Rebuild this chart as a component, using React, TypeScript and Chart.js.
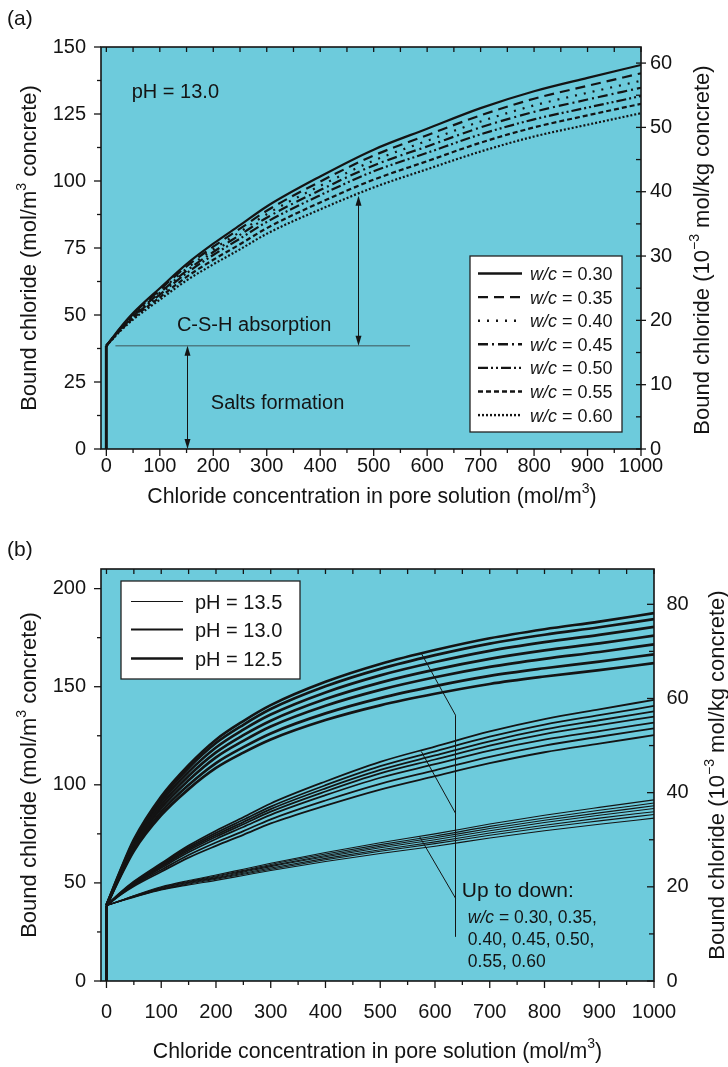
import React, { useEffect, useRef } from 'react';
import { Chart, registerables } from 'chart.js';

Chart.register(...registerables);

const FONT = '"Liberation Sans", Arial, Helvetica, sans-serif';
const PLOT_BG = '#6dcbdc';
const INK = '#141414';

// ---------------- data ----------------
// chloride concentration in pore solution (mol/m3)
const chlorideConc = [0, 25, 50, 100, 150, 200, 250, 300, 400, 500, 600, 700, 800, 900, 1000];
// salts-formation step at zero concentration (x, y)
const stemConc = [0, 0];
const stemBound = [0, 38.5];

const wcLabels = ['0.30', '0.35', '0.40', '0.45', '0.50', '0.55', '0.60'];
const phLabels = ['13.5', '13.0', '12.5'];

// pH = 13.0
const pH130_wc030 = [38.5, 45.0, 50.7, 60.0, 69.0, 76.6, 83.5, 90.5, 101.7, 111.7, 119.5, 127.2, 133.5, 138.5, 143.3];
const pH130_wc035 = [38.5, 44.8, 50.3, 59.4, 68.1, 75.5, 82.2, 88.9, 99.8, 109.5, 117.1, 124.5, 130.7, 135.5, 140.2];
const pH130_wc040 = [38.5, 44.6, 50.0, 58.8, 67.3, 74.5, 81.0, 87.6, 98.2, 107.6, 115.0, 122.2, 128.2, 132.9, 137.4];
const pH130_wc045 = [38.5, 44.5, 49.7, 58.3, 66.5, 73.5, 79.9, 86.3, 96.6, 105.8, 112.9, 120.0, 125.8, 130.4, 134.8];
const pH130_wc050 = [38.5, 44.3, 49.3, 57.6, 65.6, 72.4, 78.5, 84.7, 94.7, 103.6, 110.5, 117.4, 123.0, 127.4, 131.7];
const pH130_wc055 = [38.5, 44.0, 48.8, 56.6, 64.2, 70.6, 76.4, 82.4, 92.0, 100.5, 107.4, 114.3, 120.0, 124.5, 128.8];
const pH130_wc060 = [38.5, 43.8, 48.3, 55.7, 62.9, 68.9, 74.5, 80.3, 89.4, 97.6, 104.4, 111.0, 116.6, 121.0, 125.3];

// pH = 12.5
const pH125_wc030 = [38.5, 56.0, 72.0, 94.0, 110.0, 123.0, 132.5, 140.6, 152.5, 161.6, 168.7, 174.7, 179.3, 183.2, 187.5];
const pH125_wc035 = [38.5, 55.7, 71.3, 92.9, 108.6, 121.3, 130.6, 138.6, 150.2, 159.1, 166.1, 172.0, 176.5, 180.3, 184.5];
const pH125_wc040 = [38.5, 55.2, 70.4, 91.4, 106.6, 119.0, 128.1, 135.8, 147.1, 155.8, 162.6, 168.3, 172.7, 176.4, 180.5];
const pH125_wc045 = [38.5, 54.7, 69.4, 89.7, 104.5, 116.5, 125.3, 132.7, 143.7, 152.1, 158.7, 164.2, 168.5, 172.1, 176.0];
const pH125_wc050 = [38.5, 54.1, 68.4, 88.1, 102.3, 114.0, 122.4, 129.7, 140.3, 148.4, 154.8, 160.1, 164.2, 167.7, 171.6];
const pH125_wc055 = [38.5, 53.5, 67.3, 86.2, 99.9, 111.1, 119.2, 126.2, 136.4, 144.2, 150.3, 155.5, 159.4, 162.8, 166.5];
const pH125_wc060 = [38.5, 53.0, 66.3, 84.5, 97.8, 108.6, 116.4, 123.1, 133.0, 140.5, 146.4, 151.4, 155.2, 158.5, 162.0];

// pH = 13.5
const pH135_wc030 = [38.5, 41.0, 43.5, 48.0, 51.2, 54.0, 57.0, 60.0, 65.5, 70.5, 75.0, 80.0, 84.5, 88.5, 92.3];
const pH135_wc035 = [38.5, 40.9, 43.4, 47.7, 50.8, 53.5, 56.4, 59.4, 64.7, 69.5, 73.9, 78.8, 83.1, 87.0, 90.7];
const pH135_wc040 = [38.5, 40.9, 43.2, 47.5, 50.5, 53.1, 56.0, 58.8, 64.0, 68.7, 73.0, 77.7, 81.9, 85.7, 89.3];
const pH135_wc045 = [38.5, 40.8, 43.1, 47.2, 50.2, 52.7, 55.5, 58.3, 63.3, 67.9, 72.0, 76.6, 80.8, 84.5, 87.9];
const pH135_wc050 = [38.5, 40.7, 42.9, 46.9, 49.8, 52.3, 54.9, 57.6, 62.5, 66.9, 70.9, 75.4, 79.4, 83.0, 86.3];
const pH135_wc055 = [38.5, 40.7, 42.8, 46.7, 49.4, 51.9, 54.4, 57.0, 61.8, 66.1, 70.0, 74.3, 78.2, 81.6, 84.9];
const pH135_wc060 = [38.5, 40.6, 42.6, 46.4, 49.0, 51.3, 53.8, 56.3, 60.9, 65.0, 68.7, 72.9, 76.6, 79.9, 83.0];

const pH130Series = [pH130_wc030, pH130_wc035, pH130_wc040, pH130_wc045, pH130_wc050, pH130_wc055, pH130_wc060];
const pH125Series = [pH125_wc030, pH125_wc035, pH125_wc040, pH125_wc045, pH125_wc050, pH125_wc055, pH125_wc060];
const pH135Series = [pH135_wc030, pH135_wc035, pH135_wc040, pH135_wc045, pH135_wc050, pH135_wc055, pH135_wc060];

const xTicks = [0, 100, 200, 300, 400, 500, 600, 700, 800, 900, 1000];
const yTicksA = [0, 25, 50, 75, 100, 125, 150];
const y2TicksA = [0, 10, 20, 30, 40, 50, 60];
const yTicksB = [0, 50, 100, 150, 200];
const y2TicksB = [0, 20, 40, 60, 80];

// ---------------- styles ----------------
const wcDashes = [[], [10, 6], [2, 7], [10, 4, 2, 4], [10, 3, 2, 3, 2, 3], [5, 3], [2, 2]];
const phWidths = [1.1, 1.8, 2.7];

type Seg = { t: string; italic?: boolean; sup?: boolean };

function segFont(s: Seg, size: number) {
  const sz = s.sup ? Math.round(size * 0.65) : size;
  return `${s.italic ? 'italic ' : ''}${sz}px ${FONT}`;
}

function drawRich(ctx: CanvasRenderingContext2D, segs: Seg[], x: number, y: number, size: number, align: 'left' | 'center' = 'left', rot = 0) {
  ctx.save();
  ctx.translate(x, y);
  if (rot) ctx.rotate(rot);
  let total = 0;
  for (const s of segs) {
    ctx.font = segFont(s, size);
    total += ctx.measureText(s.t).width;
  }
  let cx = align === 'center' ? -total / 2 : 0;
  ctx.textAlign = 'left';
  ctx.textBaseline = 'alphabetic';
  ctx.fillStyle = INK;
  for (const s of segs) {
    ctx.font = segFont(s, size);
    ctx.fillText(s.t, cx, s.sup ? -size * 0.45 : 0);
    cx += ctx.measureText(s.t).width;
  }
  ctx.restore();
}

function line(ctx: CanvasRenderingContext2D, x1: number, y1: number, x2: number, y2: number) {
  ctx.beginPath();
  ctx.moveTo(x1, y1);
  ctx.lineTo(x2, y2);
  ctx.stroke();
}

function arrowHead(ctx: CanvasRenderingContext2D, x: number, y: number, dir: number) {
  ctx.beginPath();
  ctx.moveTo(x, y);
  ctx.lineTo(x - 3, y - dir * 10);
  ctx.lineTo(x + 3, y - dir * 10);
  ctx.closePath();
  ctx.fill();
}

function drawFrameAndTicks(chart: any, rightCross: boolean) {
  const { ctx, chartArea: a, scales } = chart;
  const xs = scales.x, ys = scales.y, y2 = scales.y2;
  const mids = (vals: number[]) => vals.slice(0, -1).map((v, i) => (v + vals[i + 1]) / 2);
  ctx.save();
  ctx.strokeStyle = INK;
  ctx.lineWidth = 1.3;
  const xv = xs.ticks.map((t: any) => t.value);
  xv.forEach((v: number) => {
    const p = xs.getPixelForValue(v);
    line(ctx, p, a.bottom, p, a.bottom + 7);
    line(ctx, p, a.top, p, a.top + 5);
  });
  mids(xv).forEach((v) => {
    const p = xs.getPixelForValue(v);
    line(ctx, p, a.bottom, p, a.bottom + 4);
    line(ctx, p, a.top, p, a.top + 5);
  });
  const yv = ys.ticks.map((t: any) => t.value);
  yv.forEach((v: number) => {
    const p = ys.getPixelForValue(v);
    line(ctx, a.left - 7, p, a.left, p);
  });
  mids(yv).forEach((v) => {
    const p = ys.getPixelForValue(v);
    line(ctx, a.left - 4, p, a.left, p);
  });
  const rv = y2.ticks.map((t: any) => t.value);
  rv.forEach((v: number) => {
    const p = y2.getPixelForValue(v);
    if (rightCross) line(ctx, a.right - 5, p, a.right + 5, p);
    else line(ctx, a.right - 7, p, a.right, p);
  });
  mids(rv).forEach((v) => {
    const p = y2.getPixelForValue(v);
    line(ctx, a.right - 5, p, a.right, p);
  });
  ctx.lineWidth = 1.6;
  ctx.strokeRect(a.left, a.top, a.right - a.left, a.bottom - a.top);
  ctx.restore();
}

function bgPlugin(id: string) {
  return {
    id,
    beforeDatasetsDraw(chart: any) {
      const { ctx, chartArea: a } = chart;
      ctx.save();
      ctx.fillStyle = PLOT_BG;
      ctx.fillRect(a.left, a.top, a.right - a.left, a.bottom - a.top);
      ctx.restore();
    },
  };
}

const plotAPlugin = {
  id: 'plotA',
  afterDatasetsDraw(chart: any) {
    const { ctx, scales } = chart;
    const px = (v: number) => scales.x.getPixelForValue(v);
    const py = (v: number) => scales.y.getPixelForValue(v);
    drawFrameAndTicks(chart, true);

    ctx.save();
    ctx.strokeStyle = '#4d7c84';
    ctx.lineWidth = 1.6;
    line(ctx, px(17), py(38.5), px(568), py(38.5));
    ctx.strokeStyle = INK;
    ctx.fillStyle = INK;
    ctx.lineWidth = 1;
    const ax1 = Math.round(px(150)) + 0.5;
    line(ctx, ax1, py(0) - 8, ax1, py(38.5) + 8);
    arrowHead(ctx, ax1, py(0), 1);
    arrowHead(ctx, ax1, py(38.5), -1);
    const ax2 = Math.round(px(471)) + 0.5;
    line(ctx, ax2, py(38.5) - 8, ax2, py(94.5) + 8);
    arrowHead(ctx, ax2, py(38.5), 1);
    arrowHead(ctx, ax2, py(94.5), -1);
    ctx.restore();

    drawRich(ctx, [{ t: 'pH = 13.0' }], px(47.5), py(133.5) + 7, 20);
    drawRich(ctx, [{ t: 'C-S-H absorption' }], px(132), py(46.6) + 7, 20);
    drawRich(ctx, [{ t: 'Salts formation' }], px(195.5), py(17.7) + 7, 20);

    ctx.save();
    ctx.fillStyle = '#ffffff';
    ctx.fillRect(470, 256, 152, 176);
    ctx.strokeStyle = '#222';
    ctx.lineWidth = 1.3;
    ctx.strokeRect(470, 256, 152, 176);
    ctx.strokeStyle = INK;
    ctx.lineWidth = 2.4;
    wcLabels.forEach((lab, i) => {
      const y = 273.5 + i * 23.6;
      ctx.setLineDash(wcDashes[i]);
      line(ctx, 478, y, 522, y);
      ctx.setLineDash([]);
      drawRich(ctx, [{ t: 'w/c', italic: true }, { t: ' = ' + lab }], 530, y + 6.5, 18);
    });
    ctx.restore();
  },
  afterDraw(chart: any) {
    const { ctx, chartArea: a } = chart;
    const cy = (a.top + a.bottom) / 2;
    drawRich(ctx, [{ t: '(a)' }], 7, 24.5, 21);
    drawRich(ctx, [{ t: 'Bound chloride (mol/m' }, { t: '3', sup: true }, { t: ' concrete)' }], 35.5, cy, 22, 'center', -Math.PI / 2);
    drawRich(ctx, [{ t: 'Bound chloride (10' }, { t: '\u22123', sup: true }, { t: ' mol/kg concrete)' }], 709, cy + 2, 22, 'center', -Math.PI / 2);
    drawRich(ctx, [{ t: 'Chloride concentration in pore solution (mol/m' }, { t: '3', sup: true }, { t: ')' }], 372, 503, 21.3, 'center');
  },
};

const plotBPlugin = {
  id: 'plotB',
  afterDatasetsDraw(chart: any) {
    const { ctx, scales } = chart;
    const px = (v: number) => scales.x.getPixelForValue(v);
    const py = (v: number) => scales.y.getPixelForValue(v);
    drawFrameAndTicks(chart, false);

    ctx.save();
    ctx.strokeStyle = INK;
    ctx.lineWidth = 1;
    const vx = Math.round(px(637)) + 0.5;
    line(ctx, vx, py(135.5), vx, py(22.5));
    line(ctx, px(575), py(167), vx, py(135.5));
    line(ctx, px(575), py(117), vx, py(85.5));
    line(ctx, px(572), py(73.5), vx, py(42.2));
    ctx.restore();

    drawRich(ctx, [{ t: 'Up to down:' }], px(649), py(46.4) + 7.5, 21);
    drawRich(ctx, [{ t: 'w/c', italic: true }, { t: ' = 0.30, 0.35,' }], px(660), py(32.8) + 6.3, 17.5);
    drawRich(ctx, [{ t: '0.40, 0.45, 0.50,' }], px(660), py(21.4) + 6.3, 17.5);
    drawRich(ctx, [{ t: '0.55, 0.60' }], px(660), py(10.2) + 6.3, 17.5);

    ctx.save();
    ctx.fillStyle = '#ffffff';
    ctx.fillRect(121, 51, 179, 98);
    ctx.strokeStyle = '#222';
    ctx.lineWidth = 1.3;
    ctx.strokeRect(121, 51, 179, 98);
    ctx.strokeStyle = INK;
    phLabels.forEach((lab, i) => {
      const y = Math.round(71 + i * 28.35) + 0.5;
      ctx.lineWidth = phWidths[i];
      line(ctx, 131, y, 183, y);
      drawRich(ctx, [{ t: 'pH = ' + lab }], 195, y + 7.2, 20);
    });
    ctx.restore();
  },
  afterDraw(chart: any) {
    const { ctx, chartArea: a } = chart;
    const cy = (a.top + a.bottom) / 2;
    drawRich(ctx, [{ t: '(b)' }], 7, 25.5, 21);
    drawRich(ctx, [{ t: 'Bound chloride (mol/m' }, { t: '3', sup: true }, { t: ' concrete)' }], 35.5, cy, 22, 'center', -Math.PI / 2);
    drawRich(ctx, [{ t: 'Bound chloride (10' }, { t: '\u22123', sup: true }, { t: ' mol/kg concrete)' }], 723.5, cy, 22, 'center', -Math.PI / 2);
    drawRich(ctx, [{ t: 'Chloride concentration in pore solution (mol/m' }, { t: '3', sup: true }, { t: ')' }], 377.5, 528, 21.3, 'center');
  },
};

type ScaleCfg = {
  yMax: number; y2Max: number; yTicks: number[]; y2Ticks: number[];
  xHeight: number; yWidth: number; y2Width: number; xPad: number; yPad: number; y2Pad: number;
};

function makeScales(c: ScaleCfg) {
  const tickFont = { family: FONT, size: 20 };
  const fmt = (v: any) => String(v);
  return {
    x: {
      type: 'linear', position: 'bottom', min: -10, max: 1000,
      afterBuildTicks: (s: any) => { s.ticks = xTicks.map((v) => ({ value: v })); },
      afterFit: (s: any) => { s.height = c.xHeight; },
      grid: { display: false, drawTicks: false }, border: { display: false },
      ticks: { font: tickFont, color: INK, padding: c.xPad, maxRotation: 0, minRotation: 0, autoSkip: false, callback: fmt },
    },
    y: {
      type: 'linear', position: 'left', min: 0, max: c.yMax,
      afterBuildTicks: (s: any) => { s.ticks = c.yTicks.map((v) => ({ value: v })); },
      afterFit: (s: any) => { s.width = c.yWidth; },
      grid: { display: false, drawTicks: false }, border: { display: false },
      ticks: { font: tickFont, color: INK, padding: c.yPad, autoSkip: false, callback: fmt },
    },
    y2: {
      type: 'linear', position: 'right', min: 0, max: c.y2Max,
      afterBuildTicks: (s: any) => { s.ticks = c.y2Ticks.map((v) => ({ value: v })); },
      afterFit: (s: any) => { s.width = c.y2Width; },
      grid: { display: false, drawTicks: false }, border: { display: false },
      ticks: { font: tickFont, color: INK, padding: c.y2Pad, autoSkip: false, callback: fmt },
    },
  };
}

function toPoints(xs: number[], ys: number[]) {
  return xs.map((x, j) => ({ x, y: ys[j] }));
}

function curve(label: string, ys: number[], width: number, dash: number[]) {
  return {
    label,
    data: toPoints(chlorideConc, ys),
    borderColor: INK,
    borderWidth: width,
    borderDash: dash,
    borderCapStyle: 'butt',
    pointRadius: 0,
    cubicInterpolationMode: 'monotone',
    fill: false,
  };
}

function stem(width: number) {
  return {
    label: 'salts formation',
    data: toPoints(stemConc, stemBound),
    borderColor: INK,
    borderWidth: width,
    pointRadius: 0,
    tension: 0,
    fill: false,
  };
}

export default function App() {
  const refA = useRef<HTMLCanvasElement>(null);
  const refB = useRef<HTMLCanvasElement>(null);

  useEffect(() => {
    const datasetsA: any[] = pH130Series.map((ys, i) => curve('w/c = ' + wcLabels[i], ys, 2.2, wcDashes[i]));
    datasetsA.push(stem(3));

    const groups = [pH135Series, pH130Series, pH125Series];
    const datasetsB: any[] = [];
    groups.forEach((series, g) => {
      series.forEach((ys, i) => {
        datasetsB.push(curve(`pH = ${phLabels[g]}, w/c = ${wcLabels[i]}`, ys, phWidths[g], []));
      });
    });
    datasetsB.push(stem(3));

    const common = {
      responsive: false,
      maintainAspectRatio: false,
      animation: false,
      devicePixelRatio: 1,
      events: [],
      plugins: { legend: { display: false }, tooltip: { enabled: false }, title: { display: false } },
    };

    const chartA = new Chart(refA.current as HTMLCanvasElement, {
      type: 'line',
      data: { datasets: datasetsA },
      options: {
        ...common,
        layout: { padding: { top: 47, left: 0, right: 0, bottom: 0 } },
        scales: makeScales({ yMax: 150, y2Max: 62.5, yTicks: yTicksA, y2Ticks: y2TicksA, xHeight: 81, yWidth: 101, y2Width: 87, xPad: 5, yPad: 15, y2Pad: 9 }) as any,
      } as any,
      plugins: [bgPlugin('bgA'), plotAPlugin],
    });

    const chartB = new Chart(refB.current as HTMLCanvasElement, {
      type: 'line',
      data: { datasets: datasetsB },
      options: {
        ...common,
        layout: { padding: { top: 39, left: 0, right: 0, bottom: 0 } },
        scales: makeScales({ yMax: 210, y2Max: 87.5, yTicks: yTicksB, y2Ticks: y2TicksB, xHeight: 86, yWidth: 101, y2Width: 74, xPad: 19, yPad: 15, y2Pad: 12.5 }) as any,
      } as any,
      plugins: [bgPlugin('bgB'), plotBPlugin],
    });

    return () => {
      chartA.destroy();
      chartB.destroy();
    };
  }, []);

  return (
    <div style={{ position: 'absolute', left: 0, top: 0, width: 728, height: 1067, background: '#ffffff', overflow: 'hidden' }}>
      <canvas ref={refA} width={728} height={530} style={{ position: 'absolute', left: 0, top: 0, width: 728, height: 530, display: 'block' }} />
      <canvas ref={refB} width={728} height={537} style={{ position: 'absolute', left: 0, top: 530, width: 728, height: 537, display: 'block' }} />
    </div>
  );
}
